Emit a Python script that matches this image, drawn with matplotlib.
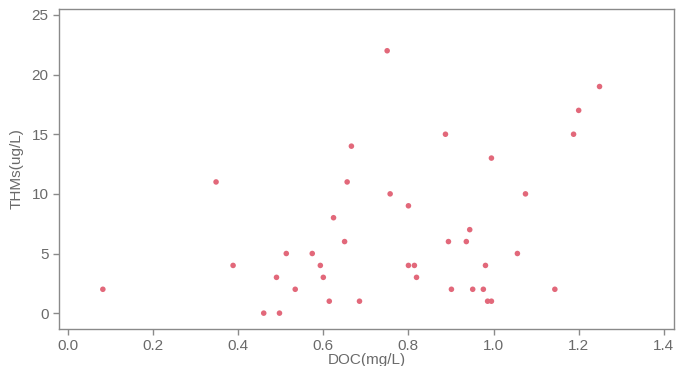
import matplotlib
matplotlib.use("Agg")
from matplotlib import pyplot as plt

# DOC (mg/L) vs THMs (ug/L)
doc = [0.082, 0.348, 0.388, 0.46, 0.49, 0.497, 0.513, 0.534, 0.574, 0.593,
       0.60, 0.614, 0.624, 0.65, 0.656, 0.666, 0.685, 0.75, 0.757, 0.80,
       0.80, 0.814, 0.819, 0.887, 0.894, 0.901, 0.936, 0.944, 0.951, 0.976,
       0.981, 0.986, 0.995, 0.995, 1.056, 1.075, 1.144, 1.188, 1.20, 1.249]
thms = [2, 11, 4, 0, 3, 0, 5, 2, 5, 4,
        3, 1, 8, 6, 11, 14, 1, 22, 10, 9,
        4, 4, 3, 15, 6, 2, 6, 7, 2, 2,
        4, 1, 1, 13, 5, 10, 2, 15, 17, 19]

x_ticks = [0.0, 0.2, 0.4, 0.6, 0.8, 1.0, 1.2, 1.4]
y_ticks = [0, 5, 10, 15, 20, 25]

plt.rcParams['font.family'] = ['Liberation Sans', 'DejaVu Sans']

fig = plt.figure(figsize=(6.87, 3.66), dpi=100)
ax = fig.add_axes([0.0859, 0.1011, 0.8952, 0.8743])

ax.scatter(doc, thms, s=16, color='#e2687a', edgecolors='none', zorder=3)

ax.set_xlim(-0.021, 1.424)
ax.set_ylim(-1.33, 25.5)
ax.set_xticks(x_ticks)
ax.set_xticklabels([f"{v:.1f}" for v in x_ticks])
ax.set_yticks(y_ticks)

grey = '#8a8a8a'
for sp in ax.spines.values():
    sp.set_color(grey)
    sp.set_linewidth(1.0)
ax.tick_params(colors=grey, labelcolor='#6a6a6a', labelsize=11, length=4, width=1)

ax.set_xlabel("DOC(mg/L)", fontsize=11, color='#6a6a6a', labelpad=0)
ax.set_ylabel("THMs(ug/L)", fontsize=11, color='#6a6a6a', labelpad=6)

fig.savefig("out.png", dpi=100)
